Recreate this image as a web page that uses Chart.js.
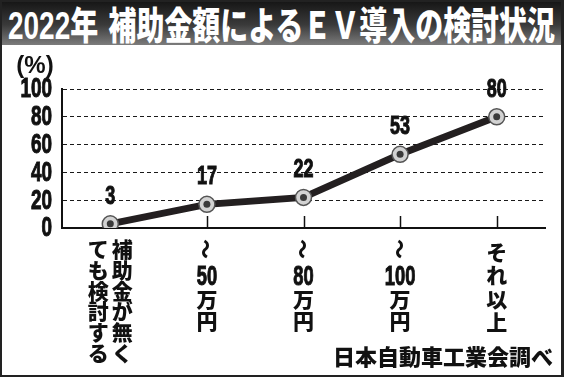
<!DOCTYPE html>
<html><head><meta charset="utf-8">
<script src="https://cdn.jsdelivr.net/npm/chart.js@4"></script>
<style>
html,body{margin:0;padding:0;background:#fff;}
#wrap{position:relative;width:564px;height:377px;overflow:hidden;background:#fff;}
#title{position:absolute;left:0;top:0;width:562px;height:45px;background:linear-gradient(#141414,#3a3a3a 55%,#7c7c7c);overflow:hidden;}
#ttext{position:absolute;left:8px;top:3px;white-space:nowrap;color:#fff;font-family:"Liberation Sans","Noto Sans CJK JP",sans-serif;font-weight:700;font-size:38px;line-height:40px;transform-origin:0 0;display:inline-block;}
#ttext .j{font-family:"Noto Sans CJK JP",sans-serif;font-weight:900;}
#ttext .g{display:inline-block;width:14px;}
#frame{position:absolute;left:0;top:0;width:564px;height:377px;box-sizing:border-box;border:2px solid #222;border-right-width:3px;pointer-events:none;}
canvas{position:absolute;left:0;top:0;}
</style></head>
<body>
<div id="wrap">
<canvas id="c" width="564" height="377"></canvas>
<div id="title"><span id="ttext">2022<span class="j">年</span><span class="g"> </span><span class="j">補助金額によるＥＶ導入の検討状況</span></span></div>
<div id="frame"></div>
</div>
<script>
const categories = ['補助金が無くても検討する', '～50万円', '～80万円', '～100万円', 'それ以上'];
const values = [3, 17, 22, 53, 80];
const yTicks = [0, 20, 40, 60, 80, 100];
const unitLabel = '(%)';
const sourceText = '日本自動車工業会調べ';
// vertical label columns, right column first
const labelColumns = [
  [['補','助','金','が','無','く'], ['て','も','検','討','す','る']],
  [['～','50','万','円']],
  [['～','80','万','円']],
  [['～','100','万','円']],
  [['そ','れ','以','上']]
];

// fit title width
const tt = document.getElementById('ttext');
const tw = tt.getBoundingClientRect().width;
tt.style.transform = 'scaleX(' + (547 / tw) + ')';

const SANS = '"Liberation Sans","DejaVu Sans",sans-serif';
const CJK = '"Noto Sans CJK JP",sans-serif';

function condensed(ctx, text, x, y, size, sx, align) {
  ctx.save();
  ctx.font = 'bold ' + size + 'px ' + SANS;
  ctx.textAlign = align;
  ctx.textBaseline = 'middle';
  ctx.translate(x, y);
  ctx.scale(sx, 1);
  ctx.fillText(text, 0, 0);
  ctx.strokeStyle = '#111';
  ctx.lineWidth = 1;
  ctx.strokeText(text, 0, 0);
  ctx.restore();
}

const extras = {
  id: 'extras',
  beforeDatasetsDraw(chart) {
    const ctx = chart.ctx, xs = chart.scales.x, bottom = chart.chartArea.bottom;
    ctx.save();
    ctx.strokeStyle = '#111';
    ctx.lineWidth = 1.5;
    categories.forEach((c, i) => {
      const x = Math.round(xs.getPixelForValue(i)) + 0.5;
      ctx.beginPath();
      ctx.moveTo(x, bottom);
      ctx.lineTo(x, bottom - 12);
      ctx.stroke();
    });
    ctx.restore();
  },
  afterDatasetsDraw(chart) {
    const ctx = chart.ctx, xs = chart.scales.x, ys = chart.scales.y;
    const meta = chart.getDatasetMeta(1);
    ctx.save();
    ctx.fillStyle = '#111';
    // y tick labels
    yTicks.forEach(v => {
      condensed(ctx, String(v), ys.left + ys.width - 10, ys.getPixelForValue(v) + 1, 27, 0.7, 'right');
    });
    // value labels
    meta.data.forEach((pt, i) => {
      condensed(ctx, String(values[i]), pt.x, pt.y - 27, 25, 0.72, 'center');
    });
    // unit
    ctx.textAlign = 'center';
    ctx.textBaseline = 'middle';
    ctx.font = 'bold 24px ' + SANS;
    ctx.fillText(unitLabel, 35, 66);
    // x labels (vertical)
    labelColumns.forEach((cols, i) => {
      const cx = xs.getPixelForValue(i);
      const n = cols.length;
      cols.forEach((col, k) => {
        const x = n === 2 ? cx + (k === 0 ? 12 : -12) : cx;
        let y = (i === 4) ? 252 : 249;
        const step = n === 2 ? 20.8 : (i === 4 ? 23.3 : 22);
        col.forEach((tok) => {
          if (tok === '～') {
            ctx.save();
            ctx.translate(x, y);
            ctx.rotate(Math.PI / 2);
            ctx.textAlign = 'center';
            ctx.textBaseline = 'middle';
            ctx.font = '900 20px ' + CJK;
            ctx.fillText('～', 0, 1);
            ctx.restore();
            y += 28;
          } else if (/^[0-9]+$/.test(tok)) {
            condensed(ctx, tok, x, y + 1, 27, 0.68, 'center');
            y += 22;
          } else {
            ctx.textAlign = 'center';
            ctx.textBaseline = 'middle';
            ctx.font = '900 21px ' + CJK;
            ctx.fillText(tok, x, y);
            y += step;
          }
        });
      });
    });
    // source
    ctx.textAlign = 'right';
    ctx.textBaseline = 'middle';
    ctx.font = '900 22px ' + CJK;
    ctx.fillText(sourceText, 553, 357);
    ctx.restore();
  }
};

new Chart(document.getElementById('c'), {
  type: 'line',
  data: {
    labels: categories,
    datasets: [{
      data: values,
      order: 2,
      borderColor: '#231f20',
      borderWidth: 7,
      tension: 0,
      pointRadius: 8,
      pointBackgroundColor: '#d2d2d2',
      pointBorderColor: '#555',
      pointBorderWidth: 1.5
    }, {
      data: values,
      order: 1,
      showLine: false,
      pointRadius: 3.5,
      pointBackgroundColor: '#3a3a3a',
      pointBorderColor: '#3a3a3a',
      pointBorderWidth: 0
    }]
  },
  options: {
    responsive: false,
    animation: false,
    devicePixelRatio: 1,
    layout: { padding: { left: 0, right: 19, top: 89, bottom: 0 } },
    plugins: { legend: { display: false }, tooltip: { enabled: false }, title: { display: false } },
    scales: {
      x: {
        type: 'category',
        offset: true,
        grid: { display: false },
        border: { display: true, color: '#111', width: 2 },
        ticks: { display: false },
        afterFit(s) { s.height = 149; }
      },
      y: {
        min: 0, max: 100,
        afterBuildTicks(s) { s.ticks = yTicks.map(v => ({ value: v })); },
        ticks: { display: false, autoSkip: false },
        grid: {
          drawTicks: false,
          lineWidth: 1,
          color: (c) => (c.tick && c.tick.value === 0) ? 'rgba(0,0,0,0)' : '#1a1a1a'
        },
        border: { display: true, color: '#111', width: 2, dash: [4, 3] },
        afterFit(s) { s.width = 62; }
      }
    }
  },
  plugins: [extras]
});
</script>
</body></html>
